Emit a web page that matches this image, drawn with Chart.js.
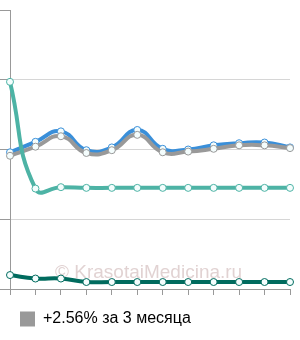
<!DOCTYPE html>
<html>
<head>
<meta charset="utf-8">
<script src="https://cdn.jsdelivr.net/npm/chart.js@4"></script>
<style>
  html, body { margin: 0; padding: 0; background: #fff; }
  #wrap { width: 300px; height: 340px; }
</style>
</head>
<body>
<div id="wrap"><canvas id="chart" width="300" height="340"></canvas></div>
<script>
// точки по оси X (12 месяцев)
const labels = ['1', '2', '3', '4', '5', '6', '7', '8', '9', '10', '11', '12'];

// значения серий
const blueValues = [1.96, 2.11, 2.26, 1.99, 2.03, 2.28, 2.01, 2.00, 2.06, 2.09, 2.10, 2.03];
const grayValues = [1.91, 2.04, 2.19, 1.95, 1.99, 2.21, 1.96, 1.97, 2.01, 2.06, 2.06, 2.02];
const tealValues = [2.97, 1.44, 1.46, 1.45, 1.45, 1.45, 1.45, 1.45, 1.45, 1.45, 1.45, 1.45];
const darkValues = [0.20, 0.15, 0.15, 0.10, 0.10, 0.10, 0.10, 0.10, 0.10, 0.10, 0.10, 0.10];

const legendText = '+2.56% за 3 месяца';
const watermark = '© KrasotaiMedicina.ru';

// водяной знак под линиями
const watermarkPlugin = {
    id: 'watermark',
    beforeDatasetsDraw(chart) {
        const ctx = chart.ctx;
        ctx.save();
        ctx.font = '19px "Liberation Sans", Arial, sans-serif';
        ctx.fillStyle = 'rgba(205, 180, 180, 0.6)';
        ctx.textBaseline = 'alphabetic';
        ctx.fillText(watermark, 55, 278);
        ctx.restore();
    }
};

function line(label, data, color) {
    return {
        label: label,
        data: data,
        borderColor: color,
        backgroundColor: color,
        borderWidth: 4,
        tension: 0.5,
        fill: false,
        pointRadius: 3.5,
        pointBorderWidth: 1,
        pointBackgroundColor: '#f4fdfd',
        pointBorderColor: color,
    };
}

const ctx = document.getElementById('chart').getContext('2d');
window.chart = new Chart(ctx, {
    type: 'line',
    data: {
        labels: labels,
        datasets: [
            line('dark', darkValues, '#006b5e'),
            line('teal', tealValues, '#4db3a5'),
            line(legendText, grayValues, '#999999'),
            line('blue', blueValues, '#3a8fd9'),
        ],
    },
    options: {
        responsive: false,
        animation: false,
        layout: { padding: { top: 10, right: 10, left: 0, bottom: 3 } },
        scales: {
            x: {
                offset: false,
                grid: { drawOnChartArea: false, drawTicks: true, tickLength: 6, tickColor: '#999' },
                border: { color: '#999', width: 1 },
                ticks: { display: false },
                afterFit: (scale) => { scale.height = 2; },
            },
            y: {
                min: 0,
                max: 4,
                ticks: { display: false, stepSize: 1 },
                grid: {
                    tickLength: 10,
                    tickColor: '#999',
                    color: (c) => (c.index === 4 ? 'rgba(0,0,0,0)' : '#d6d6d6'),
                },
                border: { color: '#999', width: 1 },
            },
        },
        plugins: {
            tooltip: { enabled: false },
            legend: {
                position: 'bottom',
                align: 'start',
                labels: {
                    boxWidth: 15,
                    boxHeight: 15,
                    padding: 20,
                    color: '#333',
                    font: { family: '"Liberation Sans", Arial, sans-serif', size: 16 },
                    generateLabels: (chart) => {
                        const ds = chart.data.datasets[2];
                        return [{
                            text: ds.label,
                            fillStyle: '#999999',
                            strokeStyle: '#999999',
                            lineWidth: 0,
                            datasetIndex: 2,
                        }];
                    },
                },
            },
        },
    },
    plugins: [watermarkPlugin],
});
</script>
</body>
</html>
